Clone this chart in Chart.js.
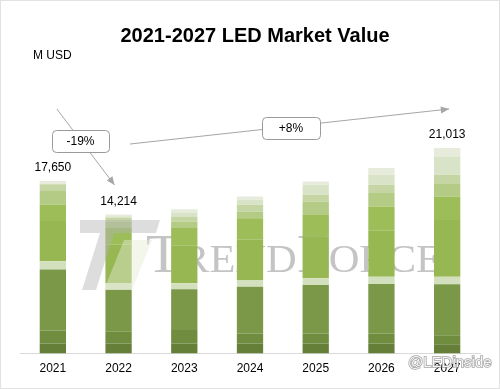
<!DOCTYPE html>
<html lang="en">
<head>
  <meta charset="UTF-8" />
  <title>2021-2027 LED Market Value</title>
  <script src="https://cdn.jsdelivr.net/npm/chart.js"></script>
  <style>
    body { margin: 0; background: #fff; }
    .chart-wrapper { position: relative; width: 500px; height: 389px; }
  </style>
</head>
<body>
  <div class="chart-wrapper">
    <canvas id="ledChart"></canvas>
  </div>

  <script>
    // Data (M USD), bottom segment first
    const years = ['2021', '2022', '2023', '2024', '2025', '2026', '2027'];
    const seg1 = [1030, 1030, 1030, 1030, 1030, 1030, 950];
    const seg2 = [1330, 1200, 1370, 1025, 1025, 1025, 920];
    const seg3 = [6230, 4284, 4170, 4780, 4950, 5050, 5230];
    const seg4 = [850, 690, 615, 690, 690, 750, 750];
    const seg5 = [4100, 3930, 3900, 4100, 4300, 4700, 5813];
    const seg6 = [1710, 1710, 1740, 2220, 2180, 2480, 2390];
    const seg7 = [1370, 690, 680, 680, 1370, 1370, 1370];
    const seg8 = [690, 340, 510, 690, 690, 850, 850];
    const seg9 = [0, 170, 410, 510, 1025, 1025, 1880];
    const seg10 = [340, 170, 340, 340, 340, 680, 860];
    const totalLabels = ['17,650', '14,214', '', '', '', '', '21,013'];

    const segments = [seg1, seg2, seg3, seg4, seg5, seg6, seg7, seg8, seg9, seg10];
    const segColors = ['#657f39', '#6f8c3f', '#7a9847', '#d3e0bd', '#97b753',
                       '#9dbd59', '#b3cb84', '#c5d6a4', '#d9e3c7', '#e6ebdc'];

    const totals = years.map((y, i) => segments.reduce((s, arr) => s + arr[i], 0));

    const decor = {
      id: 'decor',
      beforeDraw(chart) {
        const ctx = chart.ctx;
        ctx.save();
        ctx.fillStyle = '#fff';
        ctx.fillRect(0, 0, chart.width, chart.height);
        ctx.restore();
      },
      beforeDatasetsDraw(chart) {
        // TrendForce watermark text (behind the bars)
        const ctx = chart.ctx;
        ctx.save();
        ctx.fillStyle = '#c4c4c4';
        ctx.textBaseline = 'alphabetic';
        ctx.textAlign = 'left';
        const parts = [['T', 54], ['REND', 40], ['F', 54], ['ORCE', 40]];
        let w = 0;
        parts.forEach(p => { ctx.font = p[1] + 'px "Liberation Serif"'; w += ctx.measureText(p[0]).width; });
        ctx.translate(146, 272);
        ctx.scale(296 / w, 1);
        let cx = 0;
        parts.forEach(p => {
          ctx.font = p[1] + 'px "Liberation Serif"';
          ctx.fillText(p[0], cx, 0);
          cx += ctx.measureText(p[0]).width;
        });
        ctx.restore();
      },
      afterDatasetsDraw(chart) {
        const ctx = chart.ctx;
        const xs = chart.scales.x, ys = chart.scales.y;
        const area = chart.chartArea;
        ctx.save();

        // TrendForce logo mark
        ctx.globalAlpha = 0.45;
        ctx.fillStyle = '#b4b4b4';
        ctx.beginPath();
        ctx.moveTo(80, 220); ctx.lineTo(160, 220); ctx.lineTo(156, 233); ctx.lineTo(80, 233);
        ctx.closePath(); ctx.fill();
        ctx.beginPath();
        ctx.moveTo(100, 233); ctx.lineTo(114, 233); ctx.lineTo(96, 290); ctx.lineTo(82, 290);
        ctx.closePath(); ctx.fill();
        ctx.fillStyle = '#e2ead3';
        ctx.beginPath();
        ctx.moveTo(124, 240); ctx.lineTo(152, 240); ctx.lineTo(132, 290); ctx.lineTo(104, 290);
        ctx.closePath(); ctx.fill();
        ctx.globalAlpha = 1;

        // total labels
        ctx.fillStyle = '#000';
        ctx.font = '12px Arial, "Liberation Sans"';
        ctx.textAlign = 'center';
        ctx.textBaseline = 'middle';
        totalLabels.forEach((t, i) => {
          if (!t) return;
          ctx.fillText(t, xs.getPixelForValue(i), ys.getPixelForValue(totals[i]) - 13);
        });

        // arrows
        function arrow(x1, y1, x2, y2) {
          ctx.strokeStyle = '#a6a6a6';
          ctx.fillStyle = '#a6a6a6';
          ctx.lineWidth = 1;
          ctx.beginPath(); ctx.moveTo(x1, y1); ctx.lineTo(x2, y2); ctx.stroke();
          const a = Math.atan2(y2 - y1, x2 - x1);
          ctx.beginPath();
          ctx.moveTo(x2, y2);
          ctx.lineTo(x2 - 9 * Math.cos(a - 0.4), y2 - 9 * Math.sin(a - 0.4));
          ctx.lineTo(x2 - 9 * Math.cos(a + 0.4), y2 - 9 * Math.sin(a + 0.4));
          ctx.closePath(); ctx.fill();
        }
        function box(x, y, bw, bh, text) {
          ctx.fillStyle = '#fff';
          ctx.strokeStyle = '#9a9a9a';
          ctx.lineWidth = 1;
          ctx.beginPath();
          ctx.roundRect(x + 0.5, y + 0.5, bw, bh, 4);
          ctx.fill(); ctx.stroke();
          ctx.fillStyle = '#000';
          ctx.font = '12px Arial, "Liberation Sans"';
          ctx.textAlign = 'center';
          ctx.textBaseline = 'middle';
          ctx.fillText(text, x + bw / 2, y + bh / 2 + 1);
        }
        arrow(xs.getPixelForValue(0) + 4, area.top, xs.getPixelForValue(1) - 4, area.top + 76);
        arrow(130, 144, xs.getPixelForValue(6) + 2, area.top);
        box(52, 130, 57, 22, '-19%');
        box(262, 117, 58, 22, '+8%');

        // title and unit
        ctx.fillStyle = '#000';
        ctx.font = 'bold 20px Arial, "Liberation Sans"';
        ctx.textAlign = 'center';
        ctx.fillText('2021-2027 LED Market Value', 255, 36);
        ctx.font = '12px Arial, "Liberation Sans"';
        ctx.textAlign = 'left';
        ctx.fillText('M USD', 33, 56);

        // social watermark
        ctx.font = '15px Arial, "Liberation Sans"';
        ctx.textAlign = 'left';
        ctx.lineWidth = 1.5;
        ctx.strokeStyle = 'rgba(140,140,140,0.8)';
        ctx.fillStyle = 'rgba(255,255,255,0.9)';
        ctx.strokeText('@LEDinside', 408, 363);
        ctx.fillText('@LEDinside', 408, 363);

        // frame
        ctx.strokeStyle = '#e2e2e2';
        ctx.lineWidth = 1;
        ctx.strokeRect(0.5, 0.5, chart.width - 1, chart.height - 1);
        ctx.restore();
      }
    };

    const ctx = document.getElementById('ledChart').getContext('2d');
    new Chart(ctx, {
      type: 'bar',
      data: {
        labels: years,
        datasets: segments.map((arr, i) => ({
          label: 'S' + (i + 1),
          data: arr,
          backgroundColor: segColors[i],
          borderWidth: 0,
          categoryPercentage: 0.4,
          barPercentage: 1
        }))
      },
      options: {
        responsive: true,
        maintainAspectRatio: false,
        animation: false,
        layout: { padding: { left: 20, right: 20, top: 109, bottom: 5 } },
        scales: {
          x: {
            stacked: true,
            grid: { display: false, drawTicks: false },
            border: { display: true, color: '#d9d9d9' },
            ticks: { color: '#000', padding: 8, font: { family: 'Arial, "Liberation Sans"', size: 12 } }
          },
          y: {
            stacked: true,
            display: false,
            min: 0,
            max: 25000
          }
        },
        plugins: {
          legend: { display: false },
          tooltip: { enabled: false }
        }
      },
      plugins: [decor]
    });
  </script>
</body>
</html>
